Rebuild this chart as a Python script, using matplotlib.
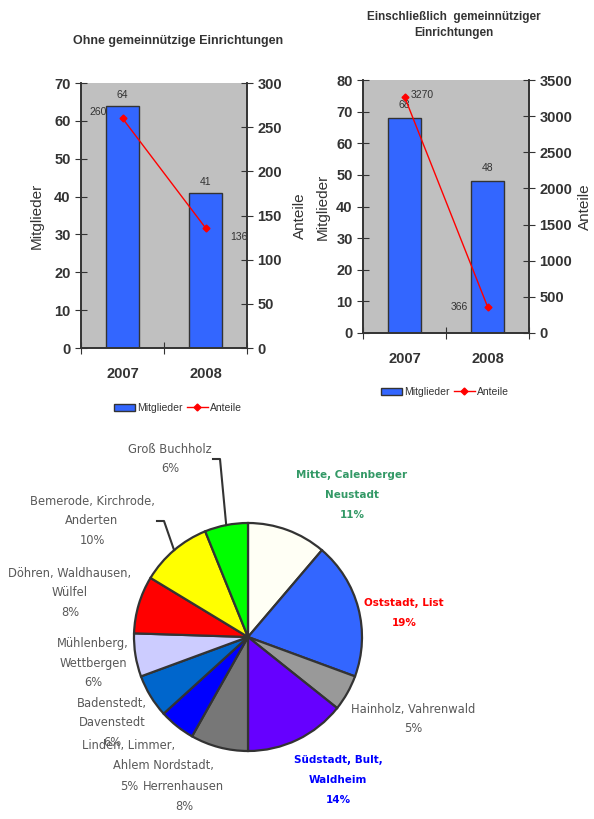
import matplotlib
matplotlib.use('Agg')
import matplotlib.pyplot as plt
import numpy as np

plt.rcParams['font.family'] = ['Liberation Sans', 'DejaVu Sans']

W, H = 594, 819

years = ['2007', '2008']
members_ohne = [64, 41]
shares_ohne = [260, 136]
members_mit = [68, 48]
shares_mit = [3270, 366]

districts = ['Mitte, Calenberger\nNeustadt', 'Oststadt, List', 'Hainholz, Vahrenwald',
             'Südstadt, Bult,\nWaldheim', 'Linden, Limmer,\nAhlem Nordstadt,\nHerrenhausen', '',
             'Badenstedt,\nDavenstedt', 'Mühlenberg,\nWettbergen', 'Döhren, Waldhausen,\nWülfel',
             'Bemerode, Kirchrode,\nAnderten', 'Groß Buchholz']
district_pct = [11, 19, 5, 14, 8, 5, 6, 6, 8, 10, 6]
district_colors = ['#FFFFF5', '#3366FF', '#999999', '#6600FF', '#777777', '#0000FF',
                   '#0066CC', '#CCCCFF', '#FF0000', '#FFFF00', '#00FF00']


def fx(x):
    return x / W


def fy(y):
    return 1 - y / H


fig = plt.figure(figsize=(W / 100, H / 100), dpi=100)
fig.patch.set_facecolor('white')
DARK = '#333333'


def bar_panel(box, members, shares, m_max, s_max, s_step, title, title_xy, title_size,
              offs, ylab_x, y2lab_x, legend_xy):
    l, t, r, b = box
    ax = fig.add_axes([fx(l), fy(b), (r - l) / W, (b - t) / H])
    x = np.arange(len(years))
    ax.set_facecolor('#C0C0C0')
    bars = ax.bar(x, members, 0.4, color='#3366FF', edgecolor=DARK, lw=1, zorder=2)
    ax.set_xlim(-0.5, len(years) - 0.5)
    ax.set_ylim(0, m_max)
    ax.set_yticks(np.arange(0, m_max + 1, 10))
    ax.set_xticks(np.arange(-0.5, len(years), 1.0))
    ax.set_xticklabels([])
    ax.set_xticks(x, minor=True)
    ax.set_xticklabels(years, minor=True)
    ax.tick_params(axis='x', which='minor', length=0, pad=14, labelsize=10.5, labelcolor=DARK)
    ax.tick_params(axis='x', which='major', direction='inout', length=9, color=DARK)
    ax.tick_params(axis='y', direction='inout', length=9, color=DARK, labelsize=10.5,
                   labelcolor=DARK, pad=3)

    ax2 = ax.twinx()
    line, = ax2.plot(x, shares, color='red', marker='D', ms=3.5, lw=1, zorder=3)
    ax2.set_ylim(0, s_max)
    ax2.set_yticks(np.arange(0, s_max + 1, s_step))
    ax2.tick_params(axis='y', direction='inout', length=9, color=DARK, labelsize=10.5,
                    labelcolor=DARK, pad=3)

    for a in (ax, ax2):
        a.spines['top'].set_visible(False)
        for s in ('left', 'right', 'bottom'):
            a.spines[s].set_color(DARK)
            a.spines[s].set_linewidth(1.2)
        for lab in a.get_yticklabels() + a.get_xticklabels(minor=True):
            lab.set_fontweight('bold')

    ax.set_ylabel('Mitglieder', fontsize=11, color=DARK, va='center')
    ax.yaxis.set_label_coords((ylab_x - l) / (r - l), 0.5)
    ax2.set_ylabel('Anteile', fontsize=11, color=DARK, va='center')
    ax2.yaxis.set_label_coords((y2lab_x - l) / (r - l), 0.5)

    for i, v in enumerate(members):
        ax.annotate(str(v), (x[i], v), xytext=offs[0][i], textcoords='offset pixels',
                    ha='center', va='center', fontsize=7.5, color=DARK)
    for i, v in enumerate(shares):
        ax2.annotate(str(v), (x[i], v), xytext=offs[1][i], textcoords='offset pixels',
                     ha='center', va='center', fontsize=7.5, color=DARK)

    fig.text(fx(title_xy[0]), fy(title_xy[1]), title, ha='center', va='center',
             fontsize=title_size, fontweight='bold', color=DARK, linespacing=1.5)
    fig.legend([bars, line], ['Mitglieder', 'Anteile'], loc='center',
               bbox_to_anchor=(fx(legend_xy[0]), fy(legend_xy[1])), ncol=2, frameon=False,
               fontsize=7.5, handlelength=2, handletextpad=0.2, columnspacing=0.4,
               labelcolor=DARK)


bar_panel((81, 83, 247, 348), members_ohne, shares_ohne, 70, 300, 50,
          'Ohne gemeinnützige Einrichtungen', (178, 41), 9,
          [[(0, 11), (0, 11)], [(-24, 6), (33, -9)]], 37, 300, (178, 408))

bar_panel((363, 80, 529, 333), members_mit, shares_mit, 80, 3500, 500,
          'Einschließlich  gemeinnütziger\nEinrichtungen', (454, 25), 8.5,
          [[(0, 13), (0, 13)], [(18, 2), (-28, 0)]], 323, 585, (445, 392))

# pie
cx, cy, rad = 248, 637, 114
pax = fig.add_axes([fx(cx - rad), fy(cy + rad), 2 * rad / W, 2 * rad / H])
wedges, _ = pax.pie(district_pct, colors=district_colors, startangle=90, counterclock=False,
                    wedgeprops=dict(edgecolor=DARK, linewidth=1.6))
pax.set_xlim(-1, 1)
pax.set_ylim(-1, 1)
pax.set_aspect('equal')

label_x = [[352], [404], [413], [338], [129, 163, 183, 184], [129], [112], [93], [70], [92], [170]]
label_y0 = [475, 603, 709, 760, 746, 786, 703, 643, 573, 501, 449]
label_color = ['#339966', '#FF0000', '#595959', '#0000FF'] + ['#595959'] * 7
label_weight = ['bold', 'bold', 'normal', 'bold'] + ['normal'] * 7

for i, name in enumerate(districts):
    lines = (name.split('\n') if name else []) + ['%d%%' % district_pct[i]]
    xs = label_x[i] if len(label_x[i]) == len(lines) else label_x[i] * len(lines)
    for j, txt in enumerate(lines):
        fig.text(fx(xs[j]), fy(label_y0[i] + 20 * j), txt, ha='center', va='center',
                 fontsize=7.5 if label_weight[i] == 'bold' else 8.3, fontweight=label_weight[i],
                 color=label_color[i], family=['DejaVu Sans'])


def to_pie(px, py):
    return (px - cx) / rad, (cy - py) / rad


leaders = {10: [(213, 459), (220, 459)], 9: [(157, 521), (164, 521)]}
for i, pts in leaders.items():
    w = wedges[i]
    mid = np.deg2rad((w.theta1 + w.theta2) / 2)
    xs = [to_pie(*p)[0] for p in pts] + [np.cos(mid)]
    ys = [to_pie(*p)[1] for p in pts] + [np.sin(mid)]
    pax.plot(xs, ys, color=DARK, lw=1.5, clip_on=False)

fig.savefig('out.png', dpi=100)
